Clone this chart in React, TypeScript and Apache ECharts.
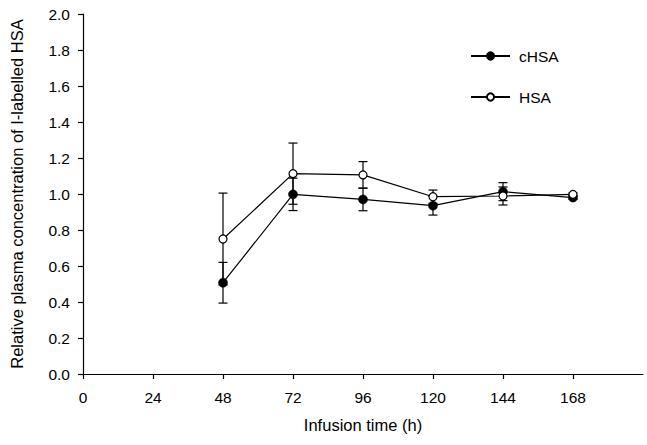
import React, { useEffect, useRef } from "react";
import * as echarts from "echarts";

const times = [48, 72, 96, 120, 144, 168];
const cHSA = [0.507, 0.998, 0.97, 0.935, 1.013, 0.98];
const cHSAErr = [0.113, 0.09, 0.063, 0.052, 0.05, 0.01];
const HSA = [0.75, 1.113, 1.106, 0.985, 0.989, 0.998];
const HSAErr = [0.255, 0.17, 0.074, 0.037, 0.05, 0.008];
const xTicks = [0, 24, 48, 72, 96, 120, 144, 168];

const FONT = "Liberation Sans, Arial, sans-serif";

function errRender(params: any, api: any) {
  const x = api.value(0);
  const lo = api.value(1);
  const hi = api.value(2);
  const p1 = api.coord([x, lo]);
  const p2 = api.coord([x, hi]);
  const w = 4.5;
  const style = { stroke: "#000", lineWidth: 1.2 };
  return {
    type: "group",
    children: [
      { type: "line", shape: { x1: p1[0], y1: p1[1], x2: p2[0], y2: p2[1] }, style },
      { type: "line", shape: { x1: p1[0] - w, y1: p1[1], x2: p1[0] + w, y2: p1[1] }, style },
      { type: "line", shape: { x1: p2[0] - w, y1: p2[1], x2: p2[0] + w, y2: p2[1] }, style },
    ],
  };
}

export default function App() {
  const ref = useRef<HTMLDivElement>(null);
  useEffect(() => {
    if (!ref.current) return;
    const chart = echarts.init(ref.current, undefined, { renderer: "svg" });
    const pts = (v: number[]) => times.map((t, i) => [t, v[i]]);
    const errs = (v: number[], e: number[]) => times.map((t, i) => [t, v[i] - e[i], v[i] + e[i]]);
    chart.setOption({
      animation: false,
      backgroundColor: "#fff",
      textStyle: { fontFamily: FONT },
      grid: { left: 82, right: 4, top: 14, bottom: 71 },
      legend: {
        data: ["cHSA", "HSA"],
        orient: "vertical",
        left: 470,
        top: 48,
        padding: 0,
        itemWidth: 39,
        itemHeight: 9,
        itemGap: 25,
        textStyle: { fontFamily: FONT, fontSize: 15.5, color: "#000", padding: [0, 0, 0, 4] },
      },
      xAxis: {
        type: "value",
        min: 0,
        max: 192,
        name: "Infusion time (h)",
        nameLocation: "middle",
        nameGap: 42,
        nameTextStyle: { fontFamily: FONT, fontSize: 16.5, color: "#000" },
        axisLine: { lineStyle: { color: "#000", width: 1.2 } },
        axisTick: { show: true, customValues: xTicks, length: 5, inside: false, lineStyle: { color: "#000", width: 1.2 } },
        axisLabel: { customValues: xTicks, margin: 15, fontFamily: FONT, fontSize: 15.5, color: "#000" },
        splitLine: { show: false },
      },
      yAxis: {
        type: "value",
        min: 0,
        max: 2,
        interval: 0.2,
        name: "Relative plasma concentration of I-labelled HSA",
        nameLocation: "middle",
        nameGap: 58,
        nameTextStyle: { fontFamily: FONT, fontSize: 16.5, color: "#000" },
        axisLine: { show: true, lineStyle: { color: "#000", width: 1.2 } },
        axisTick: { show: true, length: 5, inside: false, lineStyle: { color: "#000", width: 1.2 } },
        axisLabel: {
          margin: 13,
          fontFamily: FONT,
          fontSize: 15.5,
          color: "#000",
          formatter: (v: number) => v.toFixed(1),
        },
        splitLine: { show: false },
      },
      series: [
        {
          name: "cHSA err",
          type: "custom",
          renderItem: errRender,
          encode: { x: 0, y: [1, 2] },
          data: errs(cHSA, cHSAErr),
          z: 1,
        },
        {
          name: "HSA err",
          type: "custom",
          renderItem: errRender,
          encode: { x: 0, y: [1, 2] },
          data: errs(HSA, HSAErr),
          z: 1,
        },
        {
          name: "cHSA",
          type: "line",
          data: pts(cHSA),
          symbol: "circle",
          symbolSize: 9,
          showAllSymbol: true,
          lineStyle: { color: "#000", width: 1.2 },
          itemStyle: { color: "#000", borderColor: "#000", borderWidth: 0.5 },
          z: 3,
        },
        {
          name: "HSA",
          type: "line",
          data: pts(HSA),
          symbol: "circle",
          symbolSize: 8,
          showAllSymbol: true,
          lineStyle: { color: "#000", width: 1.2 },
          itemStyle: { color: "#fff", borderColor: "#000", borderWidth: 1.2 },
          z: 4,
        },
      ],
    });
    return () => chart.dispose();
  }, []);
  return <div ref={ref} style={{ position: "fixed", left: 0, top: 0, width: 647, height: 445 }} />;
}
